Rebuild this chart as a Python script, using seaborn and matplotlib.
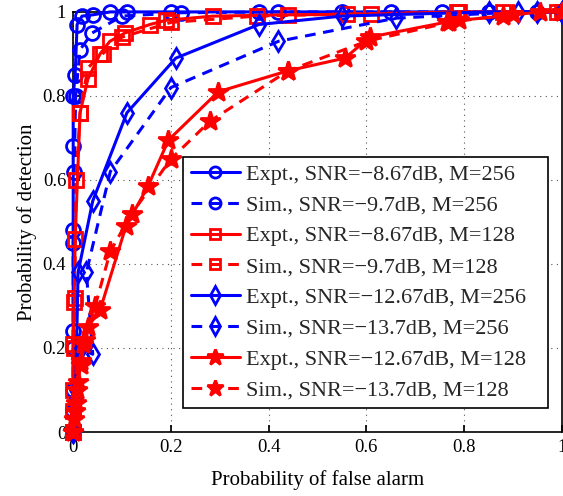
import matplotlib
matplotlib.use("Agg")
import matplotlib.pyplot as plt
import seaborn as sns

# ---- data ----
pfa_c_expt = [0, 0, 0, 0, 0, 0, 0.004, 0.008, 0.018, 0.04, 0.076, 0.11, 0.2, 0.38, 0.55, 0.755, 0.95, 1]
pd_c_expt = [0, 0.1, 0.24, 0.48, 0.68, 0.80, 0.85, 0.97, 0.99, 0.993, 1, 1, 1, 1, 1, 1, 1, 1]

pfa_c_sim = [0, 0, 0, 0, 0.002, 0.005, 0.014, 0.039, 0.1, 0.22, 0.42, 0.65, 0.85, 1]
pd_c_sim = [0, 0.05, 0.2, 0.45, 0.62, 0.80, 0.91, 0.95, 0.99, 0.998, 1, 1, 1, 1]

pfa_s_expt = [0, 0, 0, 0.002, 0.004, 0.014, 0.03, 0.055, 0.075, 0.106, 0.157, 0.19, 0.286, 0.44, 0.61, 0.785, 0.88, 1]
pd_s_expt = [0, 0.1, 0.21, 0.31, 0.46, 0.76, 0.84, 0.90, 0.93, 0.95, 0.97, 0.98, 0.99, 0.993, 0.995, 1, 1, 1]

pfa_s_sim = [0, 0, 0.001, 0.003, 0.006, 0.014, 0.03, 0.06, 0.1, 0.2, 0.376, 0.56, 0.79, 0.99]
pd_s_sim = [0, 0.05, 0.2, 0.32, 0.6, 0.76, 0.867, 0.9, 0.94, 0.975, 0.99, 0.995, 1, 1]

pfa_d_expt = [0, 0.005, 0.01, 0.04, 0.11, 0.21, 0.38, 0.55, 0.85, 0.95, 1]
pd_d_expt = [0, 0.1, 0.38, 0.55, 0.76, 0.89, 0.97, 0.99, 1, 1, 1]

pfa_d_sim = [0, 0.005, 0.015, 0.04, 0.027, 0.076, 0.2, 0.42, 0.66, 0.91, 1]
pd_d_sim = [0, 0.08, 0.2, 0.185, 0.38, 0.62, 0.82, 0.93, 0.985, 1, 1]

pfa_st_expt = [0, 0.002, 0.005, 0.01, 0.015, 0.02, 0.03, 0.055, 0.108, 0.153, 0.195, 0.297, 0.44, 0.556, 0.607, 0.765, 0.79, 0.88, 0.955, 1]
pd_st_expt = [0, 0.03, 0.07, 0.12, 0.17, 0.21, 0.25, 0.29, 0.49, 0.585, 0.695, 0.81, 0.86, 0.89, 0.94, 0.976, 0.98, 0.99, 1, 1]

pfa_st_sim = [0, 0.003, 0.008, 0.015, 0.025, 0.045, 0.076, 0.12, 0.2, 0.28, 0.44, 0.6, 0.77, 0.9, 1]
pd_st_sim = [0, 0.05, 0.1, 0.16, 0.22, 0.3, 0.43, 0.52, 0.65, 0.74, 0.86, 0.93, 0.975, 0.995, 1]

series = [
    (pfa_c_expt, pd_c_expt, "Expt., SNR=\u22128.67dB, M=256", "blue", "-", "o"),
    (pfa_c_sim, pd_c_sim, "Sim., SNR=\u22129.7dB, M=256", "blue", "--", "o"),
    (pfa_s_expt, pd_s_expt, "Expt., SNR=\u22128.67dB, M=128", "red", "-", "s"),
    (pfa_s_sim, pd_s_sim, "Sim., SNR=\u22129.7dB, M=128", "red", "--", "s"),
    (pfa_d_expt, pd_d_expt, "Expt., SNR=\u221212.67dB, M=256", "blue", "-", "d"),
    (pfa_d_sim, pd_d_sim, "Sim., SNR=\u221213.7dB, M=256", "blue", "--", "d"),
    (pfa_st_expt, pd_st_expt, "Expt., SNR=\u221212.67dB, M=128", "red", "-", "*"),
    (pfa_st_sim, pd_st_sim, "Sim., SNR=\u221213.7dB, M=128", "red", "--", "*"),
]

sns.set_theme(style="ticks")
plt.rcParams["font.family"] = ["Liberation Serif", "DejaVu Serif"]

fig = plt.figure(figsize=(5.63, 4.96), dpi=100)
ax = fig.add_axes([0.13, 0.129, 0.868, 0.847])

for x, y, lab, col, ls, mk in series:
    star = mk == "*"
    sns.lineplot(
        x=x, y=y, ax=ax, sort=False, estimator=None,
        color=col, linestyle="-" if ls == "-" else (0, (3.5, 2.5)), linewidth=2.2,
        marker=mk, markersize=15 if star else 10,
        markerfacecolor=col if star else "none",
        markeredgecolor=col, markeredgewidth=2.0,
        label=lab, clip_on=False, zorder=3,
    )

ax.set_xlim(0, 1)
ax.set_ylim(0, 1)
ticks = [0, 0.2, 0.4, 0.6, 0.8, 1]
ticklabels = ["0", "0.2", "0.4", "0.6", "0.8", "1"]
ax.set_xticks(ticks)
ax.set_xticklabels(ticklabels)
ax.set_yticks(ticks)
ax.set_yticklabels(ticklabels)
ax.tick_params(direction="in", labelsize=13.5, length=5, colors="black", pad=5)
ax.grid(True, linestyle=(0, (1, 4)), color="#555555", linewidth=0.8)
for s in ax.spines.values():
    s.set_visible(True)
    s.set_color("black")
    s.set_linewidth(1.2)

ax.set_xlabel("Probability of false alarm", fontsize=15, color="black", labelpad=10)
ax.set_ylabel("Probability of detection", fontsize=15, color="black", labelpad=4)

# legend box stretched to the width of the reference's box
leg = ax.legend(loc="lower left", bbox_to_anchor=(0.225, 0.057, 0.746, 0.5), mode="expand",
                borderaxespad=0, fontsize=16, handlelength=2.2, frameon=True, fancybox=False,
                framealpha=1, edgecolor="black", borderpad=0.35, labelspacing=0.46,
                handletextpad=0.3)
leg.get_frame().set_linewidth(1.2)
for h in leg.legend_handles:
    m = h.get_marker()
    h.set_markersize({"*": 12, "s": 7, "d": 9}.get(m, 8))

fig.savefig("out.png", dpi=100)
